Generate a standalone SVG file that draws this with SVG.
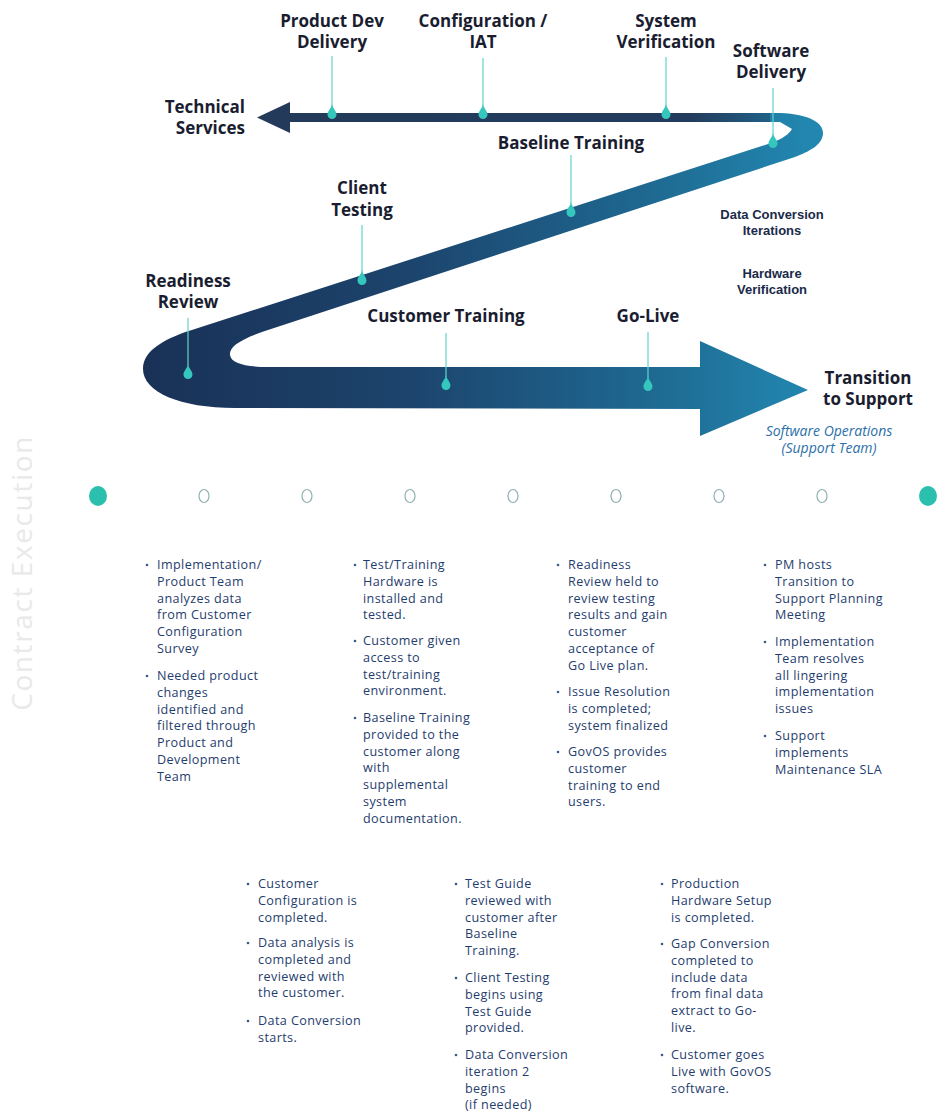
<svg xmlns="http://www.w3.org/2000/svg" width="938" height="1116" viewBox="0 0 938 1116">
<defs>
<linearGradient id="ribbonGrad" gradientUnits="userSpaceOnUse" x1="143" y1="0" x2="810" y2="0">
<stop offset="0" stop-color="#1a3156"/>
<stop offset="0.4" stop-color="#1c446d"/>
<stop offset="0.75" stop-color="#1e6890"/>
<stop offset="1" stop-color="#2287b0"/>
</linearGradient>
<linearGradient id="topGrad" gradientUnits="userSpaceOnUse" x1="257" y1="0" x2="800" y2="0">
<stop offset="0" stop-color="#233a5a"/>
<stop offset="0.8" stop-color="#233c5d"/>
<stop offset="1" stop-color="#1f6d95"/>
</linearGradient>
<path id="drop" d="M0,-10 C1,-5 4.5,-3 4.5,0.5 A4.5,4.5 0 0 1 -4.5,0.5 C-4.5,-3 -1,-5 0,-10 Z"/>
</defs>
<style>
.lbl{font-family:"Open Sans","Liberation Sans",sans-serif;font-weight:700;font-size:17px;fill:#1a1d30;text-anchor:middle}
.sm{font-family:"Liberation Sans",Arial,sans-serif;font-weight:700;font-size:13px;fill:#1a2a4a;text-anchor:middle}
.it{font-family:"Open Sans","Liberation Sans",sans-serif;font-style:italic;font-size:14px;fill:#2b6fa8;text-anchor:middle}
.body{font-family:"Open Sans","Liberation Sans",sans-serif;font-size:12.6px;fill:#1f3d6e;letter-spacing:0.4px}
.bul{fill:#3a5a8a}
.conn{stroke:#62d4cb;stroke-width:1.2;fill:none}
.mk{fill:#35c6bd}
.hol{fill:#fff;stroke:#8fb0b2;stroke-width:1.2}
.full{fill:#2bc0ad}
</style>
<rect width="938" height="1116" fill="#ffffff"/>

<text transform="translate(32,573) rotate(-90)" font-family="Open Sans, Liberation Sans, sans-serif" font-size="28" fill="#e9e9e9" text-anchor="middle" letter-spacing="1.6">Contract Execution</text>

<g id="ribbon">
<path fill="url(#ribbonGrad)" d="M 760,113 L 775,113 C 805,113 823,121 823,133 C 823,145 808,152 795,157 L 268,330 C 240,339 229,347 230,355 C 231,363 245,367 268,367 L 700,367 L 700,341 L 808,390 L 700,436 L 700,409 L 235,408 C 180,408 143,392 143,369 C 143,350 165,338 198,328 L 765,145 C 778,141 788,136 792,129 L 780,122 L 760,122 Z"/>
<rect x="285" y="113" width="485" height="9" fill="url(#topGrad)"/>
<polygon points="257,117.5 290,102 290,133" fill="#233a5a"/>
</g>

<g id="connectors">
<line class="conn" x1="332" y1="56" x2="332" y2="106"/>
<line class="conn" x1="483" y1="58" x2="483" y2="106"/>
<line class="conn" x1="666" y1="57" x2="666" y2="106"/>
<line class="conn" x1="773" y1="88" x2="773" y2="135"/>
<line class="conn" x1="571" y1="155" x2="571" y2="204"/>
<line class="conn" x1="362" y1="225" x2="362" y2="272"/>
<line class="conn" x1="188" y1="318" x2="188" y2="366"/>
<line class="conn" x1="446" y1="333" x2="446" y2="377"/>
<line class="conn" x1="648" y1="332" x2="648" y2="378"/>
</g>

<g id="node-technical-services">
<text class="lbl" style="text-anchor:end" x="245" y="113">Technical</text>
<text class="lbl" style="text-anchor:end" x="245" y="134">Services</text>
</g>
<g id="node-product-dev-delivery">
<text class="lbl" x="332" y="27">Product Dev</text>
<text class="lbl" x="332" y="48">Delivery</text>
<use href="#drop" class="mk" x="332" y="114"/>
</g>
<g id="node-configuration-iat">
<text class="lbl" x="483" y="27">Configuration /</text>
<text class="lbl" x="483" y="48">IAT</text>
<use href="#drop" class="mk" x="483" y="114"/>
</g>
<g id="node-system-verification">
<text class="lbl" x="666" y="27">System</text>
<text class="lbl" x="666" y="48">Verification</text>
<use href="#drop" class="mk" x="666" y="114"/>
</g>
<g id="node-software-delivery">
<text class="lbl" x="771" y="57">Software</text>
<text class="lbl" x="771" y="78">Delivery</text>
<use href="#drop" class="mk" x="773" y="143"/>
</g>
<g id="node-baseline-training">
<text class="lbl" x="571" y="149">Baseline Training</text>
<use href="#drop" class="mk" x="571" y="212"/>
</g>
<g id="node-data-conversion">
<text class="sm" x="772" y="219">Data Conversion</text>
<text class="sm" x="772" y="235">Iterations</text>
</g>
<g id="node-hardware-verification">
<text class="sm" x="772" y="278">Hardware</text>
<text class="sm" x="772" y="294">Verification</text>
</g>
<g id="node-client-testing">
<text class="lbl" x="362" y="194">Client</text>
<text class="lbl" x="362" y="216">Testing</text>
<use href="#drop" class="mk" x="362" y="280"/>
</g>
<g id="node-readiness-review">
<text class="lbl" x="188" y="287">Readiness</text>
<text class="lbl" x="188" y="308">Review</text>
<use href="#drop" class="mk" x="188" y="374"/>
</g>
<g id="node-customer-training">
<text class="lbl" x="446" y="322">Customer Training</text>
<use href="#drop" class="mk" x="446" y="385"/>
</g>
<g id="node-go-live">
<text class="lbl" x="648" y="322">Go-Live</text>
<use href="#drop" class="mk" x="648" y="386"/>
</g>
<g id="node-transition-to-support">
<text class="lbl" x="868" y="384">Transition</text>
<text class="lbl" x="868" y="405">to Support</text>
<text class="it" x="829" y="436">Software Operations</text>
<text class="it" x="829" y="453">(Support Team)</text>
</g>

<g id="timeline">
<ellipse class="full" cx="98" cy="496" rx="9" ry="10"/>
<ellipse class="hol" cx="204" cy="496" rx="5" ry="6.5"/>
<ellipse class="hol" cx="307" cy="496" rx="5" ry="6.5"/>
<ellipse class="hol" cx="410" cy="496" rx="5" ry="6.5"/>
<ellipse class="hol" cx="513" cy="496" rx="5" ry="6.5"/>
<ellipse class="hol" cx="616" cy="496" rx="5" ry="6.5"/>
<ellipse class="hol" cx="719" cy="496" rx="5" ry="6.5"/>
<ellipse class="hol" cx="822" cy="496" rx="5" ry="6.5"/>
<ellipse class="full" cx="928" cy="496" rx="9" ry="10"/>
</g>

<g id="col-1">
<circle class="bul" cx="147" cy="565" r="1.3"/>
<circle class="bul" cx="147" cy="676" r="1.3"/>
<text class="body" x="157" y="569">Implementation/<tspan x="157" dy="16.8">Product Team</tspan><tspan x="157" dy="16.8">analyzes data</tspan><tspan x="157" dy="16.8">from Customer</tspan><tspan x="157" dy="16.8">Configuration</tspan><tspan x="157" dy="16.8">Survey</tspan></text>
<text class="body" x="157" y="680">Needed product<tspan x="157" dy="16.8">changes</tspan><tspan x="157" dy="16.8">identified and</tspan><tspan x="157" dy="16.8">filtered through</tspan><tspan x="157" dy="16.8">Product and</tspan><tspan x="157" dy="16.8">Development</tspan><tspan x="157" dy="16.8">Team</tspan></text>
</g>

<g id="col-2">
<circle class="bul" cx="355" cy="565" r="1.3"/>
<circle class="bul" cx="355" cy="641" r="1.3"/>
<circle class="bul" cx="355" cy="718" r="1.3"/>
<text class="body" x="363" y="569">Test/Training<tspan x="363" dy="16.8">Hardware is</tspan><tspan x="363" dy="16.8">installed and</tspan><tspan x="363" dy="16.8">tested.</tspan></text>
<text class="body" x="363" y="645">Customer given<tspan x="363" dy="16.8">access to</tspan><tspan x="363" dy="16.8">test/training</tspan><tspan x="363" dy="16.8">environment.</tspan></text>
<text class="body" x="363" y="722">Baseline Training<tspan x="363" dy="16.8">provided to the</tspan><tspan x="363" dy="16.8">customer along</tspan><tspan x="363" dy="16.8">with</tspan><tspan x="363" dy="16.8">supplemental</tspan><tspan x="363" dy="16.8">system</tspan><tspan x="363" dy="16.8">documentation.</tspan></text>
</g>

<g id="col-3">
<circle class="bul" cx="558" cy="565" r="1.3"/>
<circle class="bul" cx="558" cy="692" r="1.3"/>
<circle class="bul" cx="558" cy="752" r="1.3"/>
<text class="body" x="568" y="569">Readiness<tspan x="568" dy="16.8">Review held to</tspan><tspan x="568" dy="16.8">review testing</tspan><tspan x="568" dy="16.8">results and gain</tspan><tspan x="568" dy="16.8">customer</tspan><tspan x="568" dy="16.8">acceptance of</tspan><tspan x="568" dy="16.8">Go Live plan.</tspan></text>
<text class="body" x="568" y="696">Issue Resolution<tspan x="568" dy="16.8">is completed;</tspan><tspan x="568" dy="16.8">system finalized</tspan></text>
<text class="body" x="568" y="756">GovOS provides<tspan x="568" dy="16.8">customer</tspan><tspan x="568" dy="16.8">training to end</tspan><tspan x="568" dy="16.8">users.</tspan></text>
</g>

<g id="col-4">
<circle class="bul" cx="765" cy="565" r="1.3"/>
<circle class="bul" cx="765" cy="642" r="1.3"/>
<circle class="bul" cx="765" cy="736" r="1.3"/>
<text class="body" x="775" y="569">PM hosts<tspan x="775" dy="16.8">Transition to</tspan><tspan x="775" dy="16.8">Support Planning</tspan><tspan x="775" dy="16.8">Meeting</tspan></text>
<text class="body" x="775" y="646">Implementation<tspan x="775" dy="16.8">Team resolves</tspan><tspan x="775" dy="16.8">all lingering</tspan><tspan x="775" dy="16.8">implementation</tspan><tspan x="775" dy="16.8">issues</tspan></text>
<text class="body" x="775" y="740">Support<tspan x="775" dy="16.8">implements</tspan><tspan x="775" dy="16.8">Maintenance SLA</tspan></text>
</g>

<g id="col-5">
<circle class="bul" cx="248" cy="884" r="1.3"/>
<circle class="bul" cx="248" cy="943" r="1.3"/>
<circle class="bul" cx="248" cy="1021" r="1.3"/>
<text class="body" x="258" y="888">Customer<tspan x="258" dy="16.8">Configuration is</tspan><tspan x="258" dy="16.8">completed.</tspan></text>
<text class="body" x="258" y="947">Data analysis is<tspan x="258" dy="16.8">completed and</tspan><tspan x="258" dy="16.8">reviewed with</tspan><tspan x="258" dy="16.8">the customer.</tspan></text>
<text class="body" x="258" y="1025">Data Conversion<tspan x="258" dy="16.8">starts.</tspan></text>
</g>

<g id="col-6">
<circle class="bul" cx="456" cy="884" r="1.3"/>
<circle class="bul" cx="456" cy="978" r="1.3"/>
<circle class="bul" cx="456" cy="1055" r="1.3"/>
<text class="body" x="465" y="888">Test Guide<tspan x="465" dy="16.8">reviewed with</tspan><tspan x="465" dy="16.8">customer after</tspan><tspan x="465" dy="16.8">Baseline</tspan><tspan x="465" dy="16.8">Training.</tspan></text>
<text class="body" x="465" y="982">Client Testing<tspan x="465" dy="16.8">begins using</tspan><tspan x="465" dy="16.8">Test Guide</tspan><tspan x="465" dy="16.8">provided.</tspan></text>
<text class="body" x="465" y="1059">Data Conversion<tspan x="465" dy="16.8">iteration 2</tspan><tspan x="465" dy="16.8">begins</tspan><tspan x="465" dy="16.8">(if needed)</tspan></text>
</g>

<g id="col-7">
<circle class="bul" cx="662" cy="884" r="1.3"/>
<circle class="bul" cx="662" cy="944" r="1.3"/>
<circle class="bul" cx="662" cy="1055" r="1.3"/>
<text class="body" x="671" y="888">Production<tspan x="671" dy="16.8">Hardware Setup</tspan><tspan x="671" dy="16.8">is completed.</tspan></text>
<text class="body" x="671" y="948">Gap Conversion<tspan x="671" dy="16.8">completed to</tspan><tspan x="671" dy="16.8">include data</tspan><tspan x="671" dy="16.8">from final data</tspan><tspan x="671" dy="16.8">extract to Go-</tspan><tspan x="671" dy="16.8">live.</tspan></text>
<text class="body" x="671" y="1059">Customer goes<tspan x="671" dy="16.8">Live with GovOS</tspan><tspan x="671" dy="16.8">software.</tspan></text>
</g>
</svg>
